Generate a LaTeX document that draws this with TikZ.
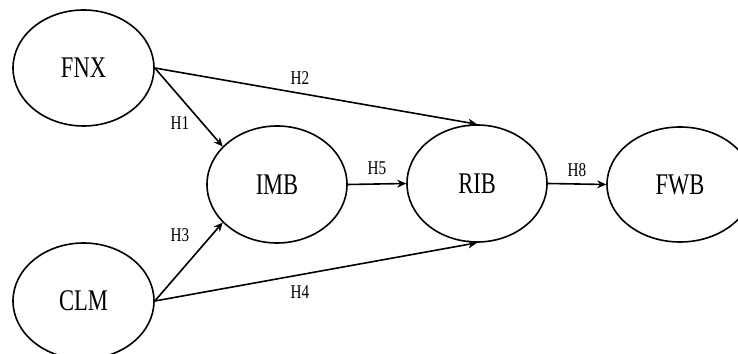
\documentclass[tikz,border=0pt]{standalone}
\usepackage{graphicx}
\usepackage{fontspec}
\setmainfont{Liberation Serif}
\usetikzlibrary{shapes.geometric,arrows.meta}
\newcommand{\narrowtext}[2]{\scalebox{#1}[1]{#2}}
\begin{document}
\begin{tikzpicture}[x=1pt,y=1pt,
  construct/.style={draw=black,line width=1.6pt,ellipse,inner sep=0pt,
    minimum width=141pt,minimum height=116pt,
    font=\fontsize{30}{30}\selectfont},
  hyp/.style={font=\fontsize{19.5}{20}\selectfont,inner sep=0pt},
  path/.style={draw=black,line width=1.6pt,-{Stealth[length=9pt,width=8pt]}}]
\useasboundingbox (0,0) rectangle (738,353);
\clip (0,0) rectangle (738,353);
\node[construct] (FNX) at (83.5,285) {\narrowtext{0.75}{FNX}};
\node[construct] (CLM) at (83.5,52) {\narrowtext{0.75}{CLM}};
\node[construct,minimum width=140pt,minimum height=117pt] (IMB) at (277,168.5) {\narrowtext{0.75}{IMB}};
\node[construct,minimum width=140pt,minimum height=117pt] (RIB) at (477,169.5) {\narrowtext{0.75}{RIB}};
\node[construct,minimum width=146pt,minimum height=115pt] (FWB) at (680,168.5) {\narrowtext{0.75}{FWB}};
\draw[path] (FNX.east) -- (IMB.145);
\draw[path] (FNX.east) -- (RIB.north);
\draw[path] (CLM.east) -- (IMB.215);
\draw[path] (CLM.east) -- (RIB.south);
\draw[path] (IMB.east) -- (RIB.west);
\draw[path] (RIB.east) -- (FWB.west);
\node[hyp] (h1) at (180,230) {\narrowtext{0.78}{H1}};
\node[hyp] (h2) at (300,275) {\narrowtext{0.78}{H2}};
\node[hyp] (h3) at (180,118) {\narrowtext{0.78}{H3}};
\node[hyp] (h4) at (300,61) {\narrowtext{0.78}{H4}};
\node[hyp] (h5) at (377,185) {\narrowtext{0.78}{H5}};
\node[hyp] (h8) at (577,183) {\narrowtext{0.78}{H8}};
\end{tikzpicture}
\end{document}
